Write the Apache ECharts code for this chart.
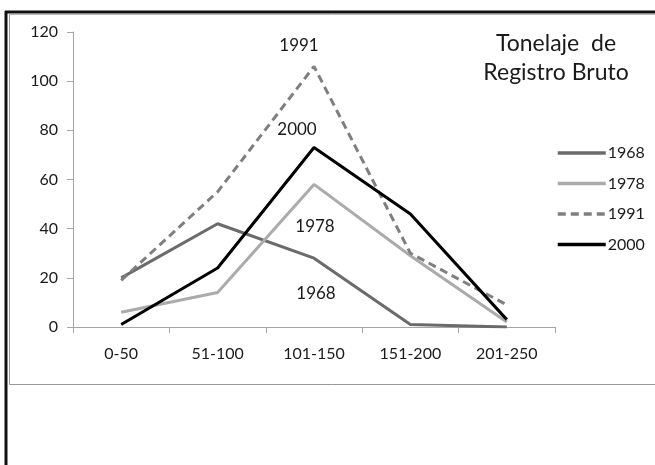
<!DOCTYPE html>
<html>
<head>
<meta charset="utf-8">
<script src="https://cdn.jsdelivr.net/npm/echarts@6/dist/echarts.min.js"></script>
<style>
html,body{margin:0;padding:0;background:#fff;}
#c{width:655px;height:465px;}
</style>
</head>
<body>
<div id="c"></div>
<script>
const categories = ['0-50', '51-100', '101-150', '151-200', '201-250'];
const s1968 = [20, 42, 28, 1, 0];
const s1978 = [6, 14, 58, 29, 2];
const s1991 = [19, 55, 106, 30, 9];
const s2000 = [1, 24, 73, 46, 3];
const yTicks = [0, 20, 40, 60, 80, 100, 120];
const titleText = 'Tonelaje  de\nRegistro Bruto';

const FONT = 'Lato, "Open Sans", sans-serif';
const chart = echarts.init(document.getElementById('c'));

function mark(arr, idx, text, offset) {
  return {
    symbol: 'circle', symbolSize: 1, silent: true,
    itemStyle: { color: 'rgba(0,0,0,0)' },
    data: [{
      coord: [categories[idx], arr[idx]],
      label: { show: true, formatter: text, position: 'inside', offset: offset,
               fontFamily: FONT, fontSize: 17, color: '#1a1a1a' }
    }]
  };
}

chart.setOption({
  animation: false,
  backgroundColor: '#fff',
  title: {
    text: titleText,
    left: 551, top: 24, textAlign: 'center',
    textStyle: { fontFamily: FONT, fontSize: 23, fontWeight: 'normal', color: '#1a1a1a', lineHeight: 29 }
  },
  legend: {
    orient: 'vertical', left: 556, top: 145, padding: 0,
    itemWidth: 48, itemHeight: 16, itemGap: 14.5,
    itemStyle: { opacity: 0 },
    lineStyle: { width: 3.5 },
    textStyle: { fontFamily: FONT, fontSize: 16, color: '#1a1a1a', padding: [0, 0, 0, -3] },
    data: ['1968', '1978', '1991', '2000']
  },
  grid: { left: 73, right: 100, top: 32, bottom: 138 },
  xAxis: {
    type: 'category', data: categories, boundaryGap: true,
    axisLine: { lineStyle: { color: '#a6a6a6', width: 1 } },
    axisTick: { show: true, length: 6, lineStyle: { color: '#a6a6a6' } },
    axisLabel: { margin: 19, fontFamily: FONT, fontSize: 16, color: '#1a1a1a' },
    splitLine: { show: false }
  },
  yAxis: {
    type: 'value', min: yTicks[0], max: yTicks[yTicks.length - 1], interval: 20,
    axisLine: { show: true, lineStyle: { color: '#a6a6a6', width: 1 } },
    axisTick: { show: true, length: 6, lineStyle: { color: '#a6a6a6' } },
    axisLabel: { margin: 15, fontFamily: FONT, fontSize: 16, color: '#1a1a1a' },
    splitLine: { show: false }
  },
  series: [
    { name: '1968', type: 'line', symbol: 'none', data: s1968,
      lineStyle: { color: '#6b6b6b', width: 3 }, itemStyle: { color: '#6b6b6b' },
      markPoint: mark(s1968, 2, '1968', [2, 35]) },
    { name: '1978', type: 'line', symbol: 'none', data: s1978,
      lineStyle: { color: '#ababab', width: 3 }, itemStyle: { color: '#ababab' },
      markPoint: mark(s1978, 2, '1978', [1, 42]) },
    { name: '1991', type: 'line', symbol: 'none', data: s1991,
      lineStyle: { color: '#7f7f7f', width: 3, type: [8, 5] }, itemStyle: { color: '#7f7f7f' },
      markPoint: mark(s1991, 2, '1991', [-15, -21]) },
    { name: '2000', type: 'line', symbol: 'none', data: s2000,
      lineStyle: { color: '#000', width: 3 }, itemStyle: { color: '#000' },
      markPoint: mark(s2000, 2, '2000', [-17, -18]) }
  ],
  graphic: [
    { type: 'line', shape: { x1: 5, y1: 12, x2: 655, y2: 12 }, style: { stroke: '#111', lineWidth: 3 }, silent: true },
    { type: 'line', shape: { x1: 6, y1: 11, x2: 6, y2: 465 }, style: { stroke: '#111', lineWidth: 3 }, silent: true },
    { type: 'line', shape: { x1: 9.5, y1: 14, x2: 9.5, y2: 384.5 }, style: { stroke: '#999', lineWidth: 1 }, silent: true },
    { type: 'line', shape: { x1: 9.5, y1: 384.5, x2: 655, y2: 384.5 }, style: { stroke: '#999', lineWidth: 1 }, silent: true },
    { type: 'line', shape: { x1: 9.5, y1: 14.5, x2: 655, y2: 14.5 }, style: { stroke: '#bbb', lineWidth: 1 }, silent: true }
  ]
});
</script>
</body>
</html>
